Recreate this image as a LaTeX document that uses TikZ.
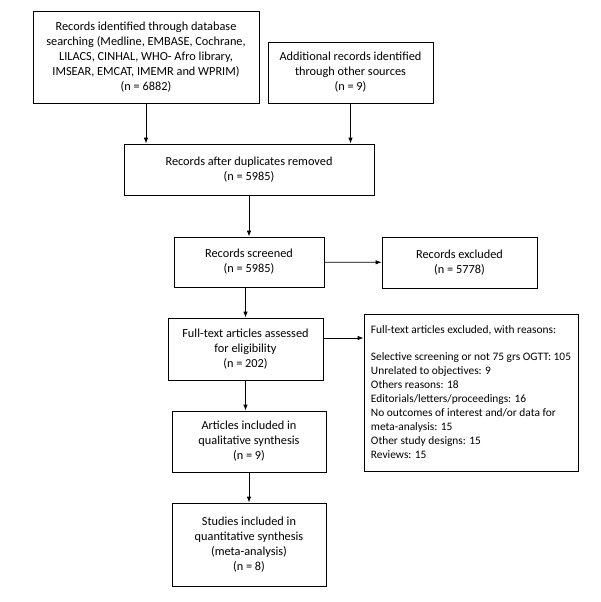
\documentclass[tikz,border=0pt]{standalone}
\usepackage{fontspec}
\setmainfont{Carlito}
\usetikzlibrary{arrows.meta}
\begin{document}
\begin{tikzpicture}[x=1pt,y=-1pt,
 box/.style={draw, line width=0.8pt, align=center, inner sep=0pt, font=\fontsize{12.3}{15}\selectfont},
 arr/.style={-{Latex[length=6pt,width=4.5pt]}, line width=0.8pt}]
\useasboundingbox (0,0) rectangle (600,602);
\node[box, minimum width=226, minimum height=92] (db) at (146,57) {Records identified through database\\searching (Medline, EMBASE, Cochrane,\\LILACS, CINHAL, WHO- Afro library,\\IMSEAR, EMCAT, IMEMR and WPRIM)\\(n = 6882)};
\node[box, minimum width=165, minimum height=61] (add) at (350.5,72.5) {Additional records identified\\through other sources\\(n = 9)};
\node[box, minimum width=250, minimum height=51] (dup) at (249,169.5) {Records after duplicates removed\\(n = 5985)};
\node[box, minimum width=150, minimum height=50] (scr) at (249,262) {Records screened\\(n = 5985)};
\node[box, minimum width=155, minimum height=51] (exc) at (459.5,262.5) {Records excluded\\(n = 5778)};
\node[box, minimum width=155, minimum height=62] (full) at (245.5,349) {Full-text articles assessed\\for eligibility\\(n = 202)};
\node[box, minimum width=214, minimum height=157, align=left, font=\fontsize{11.4}{14}\selectfont] (rea) at (471,392.5) {Full-text articles excluded, with reasons:\\[13pt]Selective screening or not 75 grs OGTT: 105\\Unrelated to objectives: 9\\Others reasons: 18\\Editorials/letters/proceedings: 16\\No outcomes of interest and/or data for\\meta-analysis: 15\\Other study designs: 15\\Reviews: 15};
\node[box, minimum width=154, minimum height=61] (qual) at (249,441.5) {Articles included in\\qualitative synthesis\\(n = 9)};
\node[box, minimum width=154, minimum height=83] (quant) at (249,544.5) {Studies included in\\quantitative synthesis\\(meta-analysis)\\(n = 8)};
\draw[arr] (db.south) -- (db.south |- dup.north);
\draw[arr] (add.south) -- (add.south |- dup.north);
\draw[arr] (dup) -- (scr);
\draw[arr] (scr) -- (exc);
\draw[arr] (full.north |- scr.south) -- (full.north);
\draw[arr] ([yshift=11pt]full.east) -- ([yshift=11pt]full.east -| rea.west);
\draw[arr] (full.south) -- (full.south |- qual.north);
\draw[arr] (qual) -- (quant);
\end{tikzpicture}
\end{document}
